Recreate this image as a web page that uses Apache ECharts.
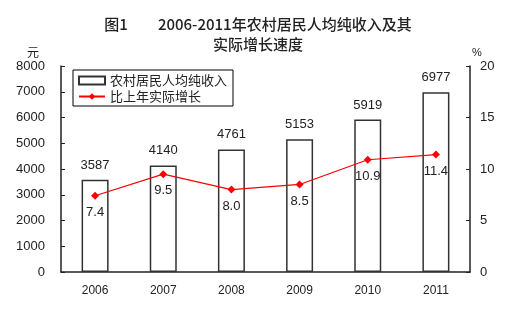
<!DOCTYPE html>
<html><head><meta charset="utf-8">
<script src="https://cdn.jsdelivr.net/npm/echarts@6/dist/echarts.min.js"></script>
<style>html,body{margin:0;padding:0;background:#fff}#c{width:528px;height:324px}</style>
</head><body><div id="c"></div>
<script>
const categories = ['2006','2007','2008','2009','2010','2011'];
const income = [3587, 4140, 4761, 5153, 5919, 6977];
const growth = [7.4, 9.5, 8.0, 8.5, 10.9, 11.4];
const growthLabels = ['7.4','9.5','8.0','8.5','10.9','11.4'];
const leftTicks = [0, 8000, 1000];
const rightTicks = [0, 20, 5];

const F = '"Liberation Sans", Arial, "Noto Sans CJK SC", sans-serif';
const C = '"Noto Sans CJK SC", sans-serif';
const chart = echarts.init(document.getElementById('c'));
chart.setOption({
  backgroundColor: '#fff',
  animation: false,
  title: {
    text: '图1　　2006-2011年农村居民人均纯收入及其\n实际增长速度',
    left: 253, textAlign: 'center', top: 9,
    textStyle: { fontFamily: C, fontSize: 15, fontWeight: 500, color: '#222', lineHeight: 20 }
  },
  legend: {
    orient: 'vertical', left: 73, top: 70,
    itemWidth: 26, itemHeight: 8, itemGap: 3,
    padding: [4, 6, 3, 5],
    borderColor: '#000', borderWidth: 1,
    textStyle: { fontFamily: C, fontSize: 13, color: '#222' },
    data: [{ name: '农村居民人均纯收入', icon: 'rect' }, { name: '比上年实际增长' }]
  },
  grid: { left: 61, right: 58, top: 66, bottom: 52 },
  xAxis: {
    type: 'category', data: categories, boundaryGap: true,
    axisLine: { lineStyle: { color: '#222', width: 1.5 } },
    axisTick: { inside: true, length: 4, lineStyle: { color: '#222' } },
    axisLabel: { margin: 13, fontFamily: F, fontSize: 12, color: '#222' }
  },
  yAxis: [{
    type: 'value', min: leftTicks[0], max: leftTicks[1], interval: leftTicks[2],
    name: '元', nameLocation: 'end', nameGap: 8,
    nameTextStyle: { fontFamily: C, fontSize: 12, color: '#222', align: 'right', padding: [0, 22, 0, 0] },
    axisLine: { show: true, lineStyle: { color: '#222', width: 1.5 } },
    axisTick: { show: true, inside: true, length: 4, lineStyle: { color: '#222' } },
    splitLine: { show: false },
    axisLabel: { margin: 16, fontFamily: F, fontSize: 13, color: '#222', formatter: v => String(v) }
  }, {
    type: 'value', min: rightTicks[0], max: rightTicks[1], interval: rightTicks[2],
    name: '%', nameLocation: 'end', nameGap: 8,
    nameTextStyle: { fontFamily: F, fontSize: 11, color: '#222', align: 'left', padding: [0, 0, 0, 2] },
    axisLine: { show: true, lineStyle: { color: '#222', width: 1.5 } },
    axisTick: { show: true, inside: true, length: 4, lineStyle: { color: '#222' } },
    splitLine: { show: false },
    axisLabel: { margin: 10, fontFamily: F, fontSize: 13, color: '#222', formatter: v => String(v) }
  }],
  series: [{
    name: '农村居民人均纯收入', type: 'bar', data: income, barWidth: 27,
    itemStyle: { color: '#fff', borderColor: '#333', borderWidth: 1.5 },
    label: { show: true, position: 'top', distance: 8, fontFamily: F, fontSize: 13, color: '#222' }
  }, {
    name: '比上年实际增长', type: 'line', yAxisIndex: 1, data: growth,
    symbol: 'diamond', symbolSize: 8,
    lineStyle: { color: '#f00', width: 1.2 },
    itemStyle: { color: '#f00' },
    label: { show: true, position: 'bottom', distance: 6, fontFamily: F, fontSize: 13, color: '#222',
      formatter: p => growthLabels[p.dataIndex] }
  }]
});
</script></body></html>
